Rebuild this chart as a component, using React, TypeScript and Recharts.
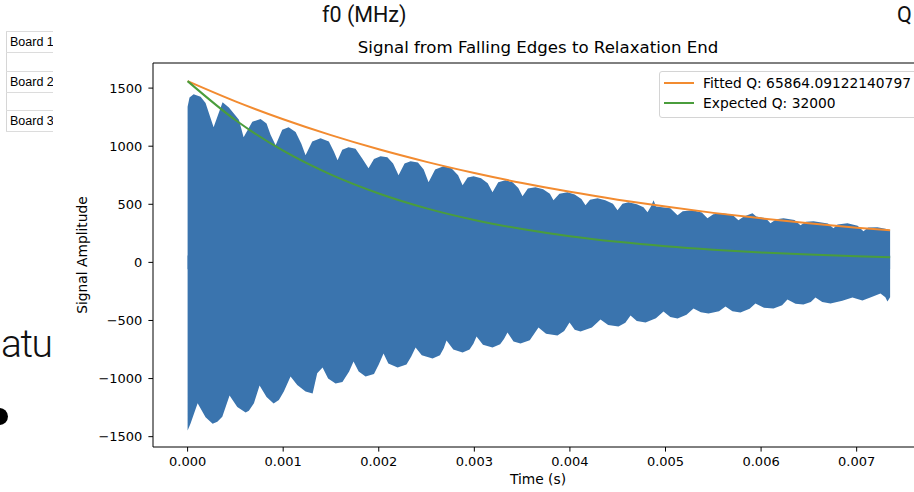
import { ComposedChart, Area, Line, XAxis, YAxis, ReferenceLine } from 'recharts'

// envelope of the ring-down signal
const upperTime = [
  0, 0.00002, 0.000063, 0.000136, 0.000188, 0.000272, 0.000366, 0.000432, 0.000537, 0.000586,
  0.000677, 0.000764, 0.000826, 0.000868, 0.000921, 0.00099, 0.001057, 0.00113, 0.00119, 0.001234,
  0.001304, 0.001391, 0.001478, 0.00153, 0.001569, 0.001618, 0.001684, 0.001757, 0.001827, 0.001893,
  0.00195, 0.002019, 0.00209, 0.00215, 0.002207, 0.00227, 0.002333, 0.00241, 0.00247, 0.002521,
  0.00259, 0.002678, 0.00276, 0.00283, 0.002877, 0.00293, 0.002992, 0.00307, 0.00314, 0.00319,
  0.00325, 0.003326, 0.0034, 0.00346, 0.003504, 0.00356, 0.00364, 0.00372, 0.00379, 0.003828,
  0.00389, 0.003975, 0.00405, 0.00412, 0.004163, 0.00421, 0.004289, 0.00437, 0.00445, 0.004498,
  0.00455, 0.004613, 0.0047, 0.00477, 0.004812, 0.00485, 0.004875, 0.0049, 0.00505, 0.005126,
  0.00518, 0.005283, 0.00538, 0.005439, 0.0055, 0.005596, 0.0057, 0.005763, 0.00582, 0.00591,
  0.00595, 0.00605, 0.006098, 0.00616, 0.006234, 0.00635, 0.006412, 0.00647, 0.006548, 0.0067,
  0.006757, 0.0068, 0.006904, 0.00701, 0.007071, 0.00712, 0.007217, 0.0073, 0.00735,
]
const upperAmp = [
  1339, 1420, 1448, 1425, 1371, 1164, 1379, 1333, 1228, 1078,
  1210, 1233, 1196, 1098, 1009, 1141, 1164, 1122, 1022, 922,
  1040, 1069, 1040, 954, 879, 969, 991, 979, 893, 810,
  890, 914, 905, 850, 750, 850, 870, 860, 800, 690,
  800, 827, 810, 750, 664, 730, 741, 725, 680, 603,
  690, 707, 690, 640, 569, 635, 647, 630, 590, 534,
  590, 603, 585, 545, 491, 540, 552, 535, 505, 448,
  505, 517, 500, 475, 431, 485, 534, 480, 465, 405,
  440, 448, 430, 379, 415, 422, 410, 362, 395, 422,
  395, 380, 336, 372, 379, 365, 319, 350, 353, 335,
  293, 325, 336, 315, 267, 300, 302, 290, 276,
]
const lowerTime = [
  0, 0.00003, 0.000105, 0.000188, 0.000262, 0.000311, 0.000363, 0.000439, 0.00052, 0.000607,
  0.000641, 0.000694, 0.000753, 0.000826, 0.0009, 0.000955, 0.001007, 0.001077, 0.001147, 0.001234,
  0.001308, 0.001356, 0.001412, 0.00147, 0.001548, 0.00162, 0.00169, 0.001736, 0.00179, 0.001862,
  0.00195, 0.002, 0.00205, 0.0021, 0.002197, 0.00229, 0.00234, 0.002385, 0.00245, 0.002563,
  0.00264, 0.00268, 0.002709, 0.00278, 0.002877, 0.00295, 0.00299, 0.003023, 0.00309, 0.00319,
  0.00327, 0.00331, 0.003347, 0.00341, 0.003483, 0.00358, 0.00363, 0.003671, 0.00375, 0.00387,
  0.00394, 0.003996, 0.00405, 0.004111, 0.00423, 0.00432, 0.0044, 0.004508, 0.00458, 0.004634,
  0.0047, 0.004791, 0.0049, 0.004979, 0.00505, 0.005126, 0.00522, 0.005293, 0.00537, 0.00545,
  0.00556, 0.005628, 0.0057, 0.005784, 0.00588, 0.005941, 0.00603, 0.00613, 0.00622, 0.006276,
  0.00636, 0.006443, 0.00652, 0.006569, 0.00664, 0.006726, 0.00685, 0.006956, 0.00706, 0.00715,
  0.007249, 0.0073, 0.007322, 0.00735,
]
const lowerAmp = [
  -1448, -1388, -1213, -1332, -1388, -1371, -1328, -1146, -1245, -1293,
  -1276, -1213, -1060, -1158, -1215, -1184, -1112, -983, -1055, -1112,
  -1129, -954, -905, -1000, -1043, -1030, -940, -853, -940, -983,
  -960, -880, -784, -870, -905, -880, -810, -733, -800, -828,
  -800, -740, -672, -750, -776, -750, -700, -638, -710, -733,
  -705, -660, -603, -680, -698, -670, -610, -560, -615, -629,
  -590, -517, -580, -595, -560, -491, -540, -552, -520, -457,
  -505, -517, -480, -422, -470, -483, -450, -397, -430, -440,
  -420, -379, -420, -431, -400, -353, -390, -397, -370, -319,
  -355, -362, -340, -302, -340, -353, -330, -302, -328, -300,
  -267, -300, -336, -300,
]

// fitted and expected decay curves
const curveTime = [
  0, 0.0005, 0.001, 0.0015, 0.002, 0.0025, 0.003, 0.0035, 0.004, 0.0045,
  0.005, 0.0055, 0.006, 0.0065, 0.007, 0.00735,
]
const fittedAmp = [1560, 1386, 1232, 1095, 973, 865, 769, 683, 607, 540, 480, 426, 379, 337, 299, 276]
const expectedAmp = [1560, 1225, 961, 755, 593, 465, 365, 287, 225, 177, 139, 109, 85, 67, 53, 45]

const xTicks = [0, 0.001, 0.002, 0.003, 0.004, 0.005, 0.006, 0.007]
const yTicks = [-1500, -1000, -500, 0, 500, 1000, 1500]
const boards = ['Board 1', 'Board 2', 'Board 3']
const legendItems = [
  { name: 'Fitted Q: 65864.09122140797', color: '#f28b30' },
  { name: 'Expected Q: 32000', color: '#4a9d3c' },
]

const X_MIN = -0.000362
const X_MAX = 0.007715
const Y_MIN = -1589
const Y_MAX = 1716
const BLUE = '#3a74ae'

const upperData = upperTime.map((t, i) => ({ t, v: upperAmp[i] }))
const lowerData = lowerTime.map((t, i) => ({ t, v: lowerAmp[i] }))
const curveData = curveTime.map((t, i) => ({ t, fit: fittedAmp[i], exp: expectedAmp[i] }))

const mpl = { fontFamily: 'DejaVu Sans', fontSize: 13, fill: '#000' }
const minus = (v: number) => String(v).replace('-', '\u2212')

export default function App() {
  return (
    <div style={{ position: 'absolute', left: 0, top: 0, width: 914, height: 492, overflow: 'hidden', background: '#fff' }}>
      {/* left-hand page bits sticking out behind the figure */}
      <div style={{ position: 'absolute', left: 0, top: 0, width: 53, height: 492, overflow: 'hidden' }}>
        <div style={{ position: 'absolute', left: 6, top: 31, width: 1, height: 100, background: '#d6d6d6' }} />
        {boards.map((b, i) => (
          <div key={b} style={{
            position: 'absolute', left: 6, top: 31 + i * 39.5, width: 60, height: 20,
            borderTop: '1px solid #dcdcdc', borderBottom: '1px solid #dcdcdc',
            fontFamily: 'Liberation Sans', fontSize: 12.5, lineHeight: '20px', paddingLeft: 4, color: '#000',
          }}>{b}</div>
        ))}
        <div style={{ position: 'absolute', left: -9, top: 408, width: 17, height: 17, borderRadius: '50%', background: '#000' }} />
      </div>
      <div style={{
        position: 'absolute', left: 1, top: 317, whiteSpace: 'nowrap', letterSpacing: -1.5,
        fontFamily: 'Roboto', fontWeight: 300, fontSize: 39, lineHeight: '54px', color: '#111',
      }}>atu</div>

      <div style={{ position: 'absolute', left: 322, top: 2, fontFamily: 'Roboto', fontSize: 21.5, color: '#111' }}>f0 (MHz)</div>
      <div style={{ position: 'absolute', left: 897, top: 2, fontFamily: 'Roboto', fontSize: 21.5, color: '#111' }}>Q</div>

      <div style={{ position: 'absolute', left: 0, top: 0, width: 940, height: 492 }}>
        <ComposedChart width={940} height={492} margin={{ top: 63, right: 15, bottom: 0, left: 0 }}>
          <XAxis
            type="number" dataKey="t" domain={[X_MIN, X_MAX]} ticks={xTicks} allowDataOverflow
            height={45} tick={mpl} tickSize={4.6} tickMargin={5}
            stroke="#000" tickFormatter={(v: number) => v.toFixed(3)}
          />
          <YAxis
            type="number" domain={[Y_MIN, Y_MAX]} ticks={yTicks} allowDataOverflow
            width={153} tick={mpl} tickSize={4.6} tickMargin={6}
            stroke="#000" tickFormatter={minus}
          />
          <ReferenceLine y={Y_MAX} stroke="#000" strokeWidth={1} />
          <Area data={upperData} dataKey="v" type="linear" baseValue={-60} stroke="none" fill={BLUE} fillOpacity={1} isAnimationActive={false} />
          <Area data={lowerData} dataKey="v" type="linear" baseValue={60} stroke="none" fill={BLUE} fillOpacity={1} isAnimationActive={false} />
          <Line data={curveData} dataKey="fit" type="monotone" stroke={legendItems[0].color} strokeWidth={2} dot={false} isAnimationActive={false} />
          <Line data={curveData} dataKey="exp" type="monotone" stroke={legendItems[1].color} strokeWidth={2} dot={false} isAnimationActive={false} />
        </ComposedChart>
      </div>

      <div style={{ position: 'absolute', left: 538, top: 38, transform: 'translateX(-50%)', whiteSpace: 'nowrap', fontFamily: 'DejaVu Sans', fontSize: 16.6, color: '#000' }}>
        Signal from Falling Edges to Relaxation End
      </div>
      <div style={{ position: 'absolute', left: 538, top: 471, transform: 'translateX(-50%)', whiteSpace: 'nowrap', fontFamily: 'DejaVu Sans', fontSize: 13.8, color: '#000' }}>
        Time (s)
      </div>
      <div style={{ position: 'absolute', left: 82, top: 255, transform: 'translate(-50%, -50%) rotate(-90deg)', whiteSpace: 'nowrap', fontFamily: 'DejaVu Sans', fontSize: 13.8, color: '#000' }}>
        Signal Amplitude
      </div>

      <div style={{ position: 'absolute', left: 659, top: 71, width: 280, height: 45, border: '1px solid #d4d4d4', borderRadius: 3, background: 'rgba(255,255,255,0.8)' }}>
        {legendItems.map((it, i) => (
          <div key={it.name} style={{ position: 'absolute', left: 4, top: 1 + i * 20, height: 20, display: 'flex', alignItems: 'center', whiteSpace: 'nowrap' }}>
            <div style={{ width: 30, height: 2, background: it.color, marginRight: 9 }} />
            <span style={{ fontFamily: 'DejaVu Sans', fontSize: 13.8, color: '#000' }}>{it.name}</span>
          </div>
        ))}
      </div>
    </div>
  )
}
